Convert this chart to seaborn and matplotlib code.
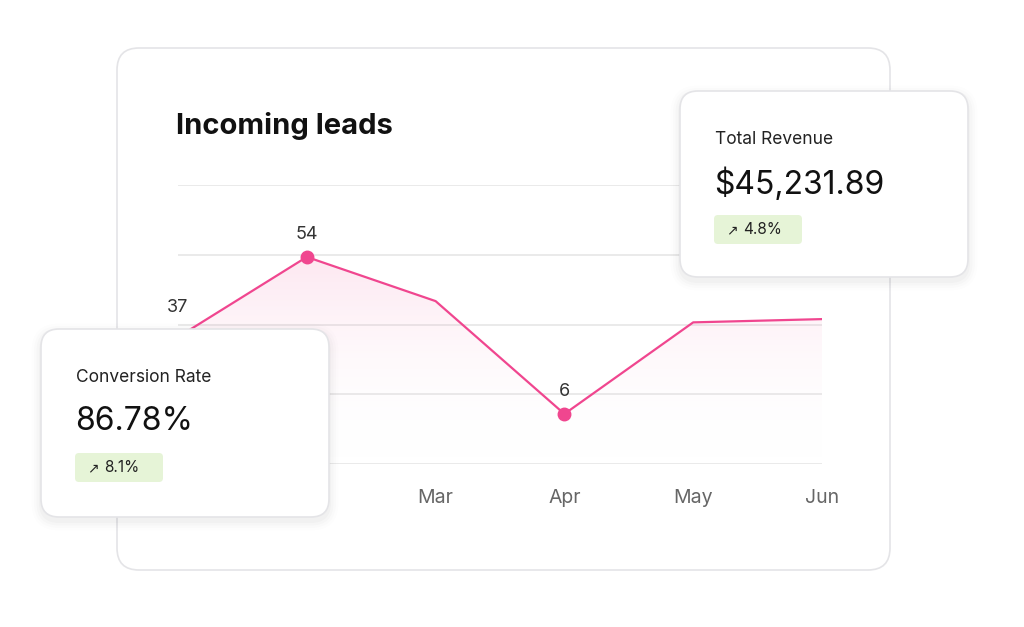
import matplotlib.pyplot as plt
import seaborn as sns
import pandas as pd
import numpy as np
from matplotlib.patches import FancyBboxPatch
from matplotlib.colors import LinearSegmentedColormap

months = ['Jan', 'Feb', 'Mar', 'Apr', 'May', 'Jun']
leads = [29.5, 54, 40.5, 6, 34, 35]
point_labels = {0: '37', 1: '54', 3: '6'}

PINK = '#f0468f'

sns.set_theme(style='white')
plt.rcParams['font.family'] = ['Inter', 'DejaVu Sans']

fig = plt.figure(figsize=(10.24, 6.27), dpi=100)
fig.patch.set_facecolor('white')

# full-figure pixel axes for the cards
def pixel_axes(z):
    a = fig.add_axes([0, 0, 1, 1], zorder=z)
    a.set_xlim(0, 1024)
    a.set_ylim(627, 0)
    a.axis('off')
    a.patch.set_alpha(0)
    return a

def card(a, x0, y0, x1, y1, r=18, shadow=True):
    if shadow:
        for i, al in enumerate([0.02, 0.015, 0.012, 0.008]):
            d = 4 + i * 5
            a.add_patch(FancyBboxPatch((x0 - d / 2, y0 - d / 2 + 4), x1 - x0 + d, y1 - y0 + d,
                                       boxstyle=f'round,pad=0,rounding_size={r + d / 2}',
                                       fc='black', ec='none', alpha=al))
    a.add_patch(FancyBboxPatch((x0, y0), x1 - x0, y1 - y0,
                               boxstyle=f'round,pad=0,rounding_size={r}',
                               fc='white', ec='#e4e4e7', lw=1.2))

bg = pixel_axes(0)
card(bg, 117, 48, 890, 570, r=22, shadow=False)
bg.text(176, 126, 'Incoming leads', fontsize=21, fontweight='bold', color='#111111', va='center')

# chart
ax = fig.add_axes([178 / 1024, 1 - 464 / 627, (822 - 178) / 1024, (464 - 185) / 627], zorder=1)
ax.patch.set_alpha(0)
df = pd.DataFrame({'month': months, 'x': range(len(months)), 'leads': leads})
ymin, ymax = -9.3, 76
for g in np.linspace(ymin, ymax, 5):
    ax.axhline(g, color='#e6e6e6', lw=1.2, zorder=0)

# gradient fill under the line
poly = ax.fill_between(df['x'], df['leads'], ymin, color='none', lw=0)
cmap = LinearSegmentedColormap.from_list('g', [(1, 1, 1, 0), (0.94, 0.27, 0.56, 0.13)])
grad = ax.imshow(np.linspace(0, 1, 256).reshape(-1, 1), cmap=cmap, aspect='auto',
                 extent=[0, 5, ymin, max(leads)], origin='lower', zorder=0.5)
grad.set_clip_path(poly.get_paths()[0], transform=ax.transData)

sns.lineplot(data=df, x='x', y='leads', ax=ax, color=PINK, lw=1.6)
for i, t in point_labels.items():
    if i != 0:
        ax.plot(i, leads[i], 'o', color=PINK, ms=9)
    ax.annotate(t, (i, leads[i]), xytext=(0, 10 if i else 15), textcoords='offset points',
                ha='center', va='bottom', fontsize=13, color='#333333')
ax.set_xlim(0, 5)
ax.set_ylim(ymin, ymax)
ax.set_xticks(df['x'])
ax.set_xticklabels(months, fontsize=14, color='#666666')
ax.tick_params(axis='x', length=0, pad=18)
ax.set_yticks([])
ax.set_xlabel('')
ax.set_ylabel('')
sns.despine(ax=ax, left=True, bottom=True)

# overlay cards
fg = pixel_axes(2)

def stat_card(x0, y0, x1, y1, title, value, change):
    card(fg, x0, y0, x1, y1)
    fg.text(x0 + 35, y0 + 48, title, fontsize=12.5, color='#222222', va='center')
    fg.text(x0 + 34, y0 + 93, value, fontsize=23, color='#111111', va='center')
    fg.add_patch(FancyBboxPatch((x0 + 34, y0 + 124), 88, 29,
                                boxstyle='round,pad=0,rounding_size=4', fc='#e6f4d7', ec='none'))
    fg.text(x0 + 46, y0 + 139, '\u2197', fontsize=10, color='#222222', va='center',
            family=['DejaVu Sans'])
    fg.text(x0 + 63, y0 + 139, change, fontsize=11, color='#222222', va='center')

stat_card(680, 91, 968, 277, 'Total Revenue', '$45,231.89', '4.8%')
stat_card(41, 329, 329, 517, 'Conversion Rate', '86.78%', '8.1%')

fig.savefig('out.png', dpi=100)
